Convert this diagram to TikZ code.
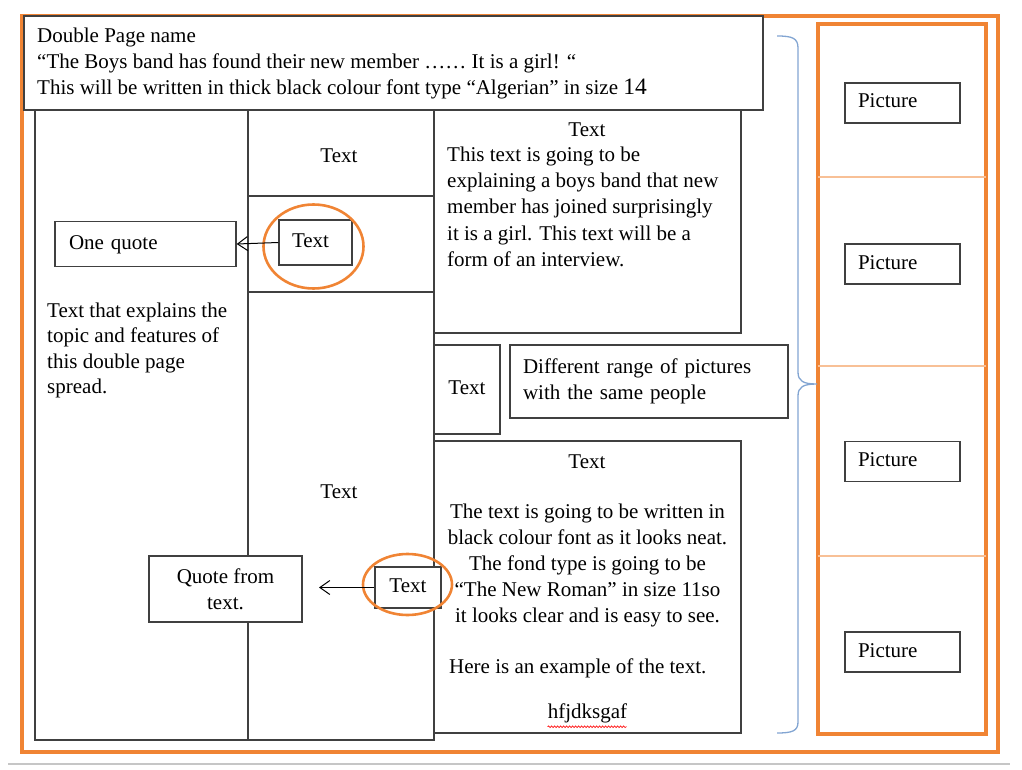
\documentclass[tikz,border=0pt]{standalone}
\usepackage{fontspec}
\setmainfont{Liberation Serif}
\usetikzlibrary{arrows.meta,decorations.pathmorphing}
\definecolor{pageorange}{RGB}{240,132,52}
\definecolor{paleorange}{RGB}{248,192,150}
\definecolor{bracketblue}{RGB}{130,165,210}
\definecolor{boxline}{RGB}{64,64,64}
\newcommand{\bigSize}[1]{{\fontsize{23.5}{26}\selectfont #1}}

\begin{document}
\begin{tikzpicture}[x=1pt,y=-1pt,
  font={\fontsize{21}{26}\selectfont},
  panel/.style={draw=boxline, line width=1.4pt},
  box/.style={draw=boxline, line width=1.4pt, fill=white, inner ysep=0pt, text height=14pt, text depth=4pt},
  lbox/.style={box, align=left},
  txt/.style={anchor=base west, inner sep=0pt},
  ctxt/.style={anchor=base, inner sep=0pt},
  ring/.style={draw=pageorange, line width=2.6pt},
  quotearrow/.style={draw=black, line width=1pt, -{Straight Barb[length=10pt,width=14pt]}}]
\useasboundingbox (0,0) rectangle (1022,770);
\draw[gray!45, line width=1.4pt] (8,764) -- (1010,764);
\draw[pageorange, line width=3.5pt] (22,16) rectangle (998,752);
% right hand page: picture strip
\draw[pageorange, line width=3.5pt] (818,24) rectangle (986,734);
\draw[paleorange, line width=1.6pt] (818,177) -- (986,177);
\draw[paleorange, line width=1.6pt] (818,366) -- (986,366);
\draw[paleorange, line width=1.6pt] (818,556) -- (986,556);
\node[lbox, text width=89pt, inner xsep=13pt, minimum height=40pt] (pic1) at (902.5,103) {Picture};
\node[lbox, text width=89pt, inner xsep=13pt, minimum height=40pt] (pic2) at (902.5,264) {Picture};
\node[lbox, text width=89pt, inner xsep=13pt, minimum height=40pt] (pic3) at (902.5,461.5) {Picture};
\node[lbox, text width=89pt, inner xsep=13pt, minimum height=40pt] (pic4) at (902.5,652) {Picture};
\draw[bracketblue, line width=1.3pt] (777,36) .. controls (792,36) and (798,38) .. (798,48) -- (798,372)
  .. controls (798,381) and (803,384) .. (817,384) .. controls (803,384) and (798,387) .. (798,396)
  -- (798,722) .. controls (798,731) and (792,733) .. (777,733);
% left hand page: columns
\draw[panel] (35,110) rectangle (434,740);
\draw[panel] (248,110) -- (248,740);
\draw[panel] (248,196) -- (434,196);
\draw[panel] (248,292) -- (434,292);
\draw[panel] (434,110) rectangle (741,333);
\draw[panel] (434,441) rectangle (741,733);
\node[box, minimum width=739pt, minimum height=94pt] (title) at (393.5,63) {};
\node[txt] (title1) at (37,43) {Double Page name};
\node[txt] (title2) at (37,69) {“The Boys band has found their new member …… It is a girl! “};
\node[txt] (title3) at (37,95) {This will be written in thick black colour font type “Algerian” in size \bigSize{14}};
\node[ctxt] (midtext1) at (339,163) {Text};
\node[ctxt] (midtext2) at (339,498) {Text};
\node[txt] (topic1) at (47,317) {Text that explains the};
\node[txt] (topic2) at (47,342.5) {topic and features of};
\node[txt] (topic3) at (47,368) {this double page};
\node[txt] (topic4) at (47,393.5) {spread.};
\node[ctxt] (introhead) at (587,137) {Text};
\node[txt] (intro1) at (447,162) {This text is going to be};
\node[txt] (intro2) at (447,188) {explaining a boys band that new};
\node[txt] (intro3) at (447,214) {member has joined surprisingly};
\node[txt] (intro4) at (447,240) {it is a girl. This text will be a};
\node[txt] (intro5) at (447,266) {form of an interview.};
\node[box, minimum width=66pt, minimum height=89pt] (sidetext) at (467,389.5) {Text};
\node[box, align=left, text width=252pt, inner xsep=13pt, minimum height=73pt, text height={}, text depth={}] (range) at (649,381.5) {Different range of pictures\\with the same people};
\node[ctxt] (bodyhead) at (587,468) {Text};
\node[ctxt] (body1) at (587.5,518) {The text is going to be written in};
\node[ctxt] (body2) at (587.5,544) {black colour font as it looks neat.};
\node[ctxt] (body3) at (587.5,570) {The fond type is going to be};
\node[ctxt] (body4) at (587.5,596) {“The New Roman” in size 11so};
\node[ctxt] (body5) at (587.5,622) {it looks clear and is easy to see.};
\node[txt] (body6) at (449,673) {Here is an example of the text.};
\node[ctxt] (sample) at (587.5,718) {hfjdksgaf};
\draw[red, line width=0.6pt, decorate, decoration={snake, amplitude=0.9pt, segment length=3pt}] (sample.south west) ++(0,4) -- ++(79,0);
% quotes pulled out of the text
\node[lbox, text width=153pt, inner xsep=14pt, minimum height=45pt] (onequote) at (145.5,244) {One quote};
\node[lbox, text width=47pt, inner xsep=13pt, minimum height=45pt] (textone) at (315.5,242.5) {Text};
\draw[ring] (313.5,246.5) ellipse [x radius=50, y radius=42];
\draw[quotearrow] (textone.west) -- (onequote.east);
\node[box, align=center, minimum width=153pt, minimum height=66pt, text height={}, text depth={}] (quotefrom) at (225.5,589) {Quote from\\text.};
\node[box, minimum width=66pt, minimum height=41pt] (texttwo) at (408,587.5) {Text};
\draw[ring] (407.5,584.5) ellipse [x radius=44.5, y radius=30.5];
\coordinate (quotetip) at (319,587.5);
\draw[quotearrow] (texttwo.west) -- (quotetip);
\end{tikzpicture}
\end{document}
